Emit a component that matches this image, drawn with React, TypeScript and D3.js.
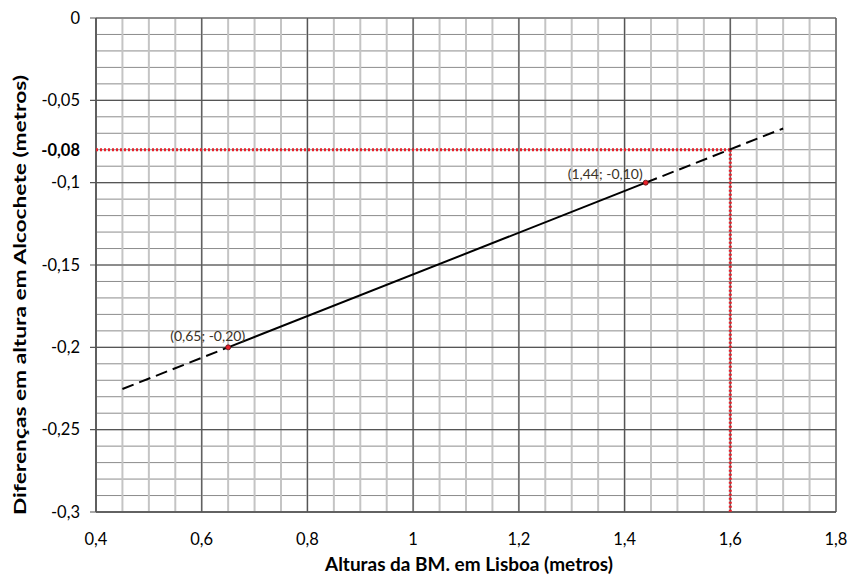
import React, { useEffect, useRef } from 'react';
import * as d3 from 'd3';

// axis ticks
const xTicks = [0.4, 0.6, 0.8, 1, 1.2, 1.4, 1.6, 1.8];
const yTicks = [0, -0.05, -0.1, -0.15, -0.2, -0.25, -0.3];
const yHighlight = -0.08;
const xHighlight = 1.6;

// measured points
const pointX = [0.65, 1.44];
const pointY = [-0.2, -0.1];
const pointLabels = ['(0,65; -0,20)', '(1,44; -0,10)'];

// extent of the fitted (extrapolated) line
const lineStart = 0.45;
const lineEnd = 1.7;

const fmt = (v: number) => String(v).replace('.', ',');

const App = () => {
    const ref = useRef<SVGSVGElement | null>(null);

    useEffect(() => {
        const svg = d3.select(ref.current);
        svg.selectAll('*').remove();

        const width = 850;
        const height = 579;
        const margin = { top: 18, right: 14, bottom: 67, left: 96 };

        const x = d3.scaleLinear().domain([0.4, 1.8]).range([margin.left, width - margin.right]);
        const y = d3.scaleLinear().domain([-0.3, 0]).range([height - margin.bottom, margin.top]);

        const font = 'Lato, "Open Sans", sans-serif';

        // minor grid
        const g = svg.append('g');
        d3.range(-0.3, 0.0001, 0.01).forEach(v => {
            g.append('line')
                .attr('x1', x(0.4)).attr('x2', x(1.8))
                .attr('y1', y(v)).attr('y2', y(v))
                .attr('stroke', '#8c8c8c').attr('stroke-width', 1);
        });
        d3.range(0.4, 1.8001, 0.05).forEach(v => {
            g.append('line')
                .attr('x1', x(v)).attr('x2', x(v))
                .attr('y1', y(0)).attr('y2', y(-0.3))
                .attr('stroke', '#c4c4c4').attr('stroke-width', 2);
        });
        // major grid
        xTicks.forEach(v => {
            g.append('line')
                .attr('x1', x(v)).attr('x2', x(v))
                .attr('y1', y(0)).attr('y2', y(-0.3))
                .attr('stroke', '#555').attr('stroke-width', 1.2);
        });
        yTicks.forEach(v => {
            g.append('line')
                .attr('x1', x(0.4) - 6).attr('x2', x(1.8))
                .attr('y1', y(v)).attr('y2', y(v))
                .attr('stroke', '#555').attr('stroke-width', 1.2);
        });
        // axis lines
        g.append('line')
            .attr('x1', x(0.4)).attr('x2', x(0.4))
            .attr('y1', y(0)).attr('y2', y(-0.3))
            .attr('stroke', '#555').attr('stroke-width', 1.5);
        g.append('line')
            .attr('x1', x(0.4)).attr('x2', x(1.8))
            .attr('y1', y(-0.3)).attr('y2', y(-0.3))
            .attr('stroke', '#555').attr('stroke-width', 1.5);

        // red guide lines
        svg.append('line')
            .attr('x1', x(0.4)).attr('x2', x(xHighlight))
            .attr('y1', y(yHighlight)).attr('y2', y(yHighlight))
            .attr('stroke', '#e8202a').attr('stroke-width', 3)
            .attr('stroke-dasharray', '2,2');
        svg.append('line')
            .attr('x1', x(xHighlight)).attr('x2', x(xHighlight))
            .attr('y1', y(yHighlight)).attr('y2', y(-0.3))
            .attr('stroke', '#e8202a').attr('stroke-width', 3)
            .attr('stroke-dasharray', '2,2');

        // fitted line through the two points
        const slope = (pointY[1] - pointY[0]) / (pointX[1] - pointX[0]);
        const f = (v: number) => pointY[0] + slope * (v - pointX[0]);
        const line = d3.line<number>().x(d => x(d)).y(d => y(f(d)));

        svg.append('path')
            .datum([lineStart, pointX[0]])
            .attr('d', line)
            .attr('fill', 'none').attr('stroke', '#000').attr('stroke-width', 2)
            .attr('stroke-dasharray', '12,6');
        svg.append('path')
            .datum([pointX[1], lineEnd])
            .attr('d', line)
            .attr('fill', 'none').attr('stroke', '#000').attr('stroke-width', 2)
            .attr('stroke-dasharray', '12,6');
        svg.append('path')
            .datum(pointX)
            .attr('d', line)
            .attr('fill', 'none').attr('stroke', '#000').attr('stroke-width', 2);

        // points + labels (labels nudged as in the original)
        const labelDx = [17, -3];
        const labelDy = [-6, -4];
        pointX.forEach((px, i) => {
            svg.append('circle')
                .attr('cx', x(px)).attr('cy', y(pointY[i]))
                .attr('r', 2.5)
                .attr('fill', '#e8202a').attr('stroke', '#5a1010').attr('stroke-width', 0.8);
            svg.append('text')
                .attr('x', x(px) + labelDx[i]).attr('y', y(pointY[i]) + labelDy[i])
                .attr('text-anchor', 'end')
                .attr('font-family', font).attr('font-size', 14)
                .attr('fill', '#3a3226')
                .text(pointLabels[i]);
        });

        // tick labels
        yTicks.forEach(v => {
            svg.append('text')
                .attr('x', x(0.4) - 16).attr('y', y(v)).attr('dy', '0.35em')
                .attr('text-anchor', 'end')
                .attr('font-family', font).attr('font-size', 16.5)
                .text(fmt(v));
        });
        svg.append('text')
            .attr('x', x(0.4) - 16).attr('y', y(yHighlight)).attr('dy', '0.35em')
            .attr('text-anchor', 'end')
            .attr('font-family', font).attr('font-size', 16.5).attr('font-weight', 'bold')
            .text(fmt(yHighlight));
        xTicks.forEach(v => {
            svg.append('text')
                .attr('x', x(v)).attr('y', y(-0.3) + 33)
                .attr('text-anchor', 'middle')
                .attr('font-family', font).attr('font-size', 16.5)
                .text(fmt(v));
        });

        // axis titles
        svg.append('text')
            .attr('x', 469).attr('y', height - 8)
            .attr('text-anchor', 'middle')
            .attr('font-family', font).attr('font-size', 18).attr('font-weight', 'bold')
            .attr('textLength', 288).attr('lengthAdjust', 'spacingAndGlyphs')
            .text('Alturas da BM. em Lisboa (metros)');
        svg.append('text')
            .attr('transform', `translate(26,${295}) rotate(-90)`)
            .attr('text-anchor', 'middle')
            .attr('font-family', font).attr('font-size', 17).attr('font-weight', 'bold')
            .attr('textLength', 440).attr('lengthAdjust', 'spacingAndGlyphs')
            .text('Diferenças em altura em Alcochete (metros)');
    }, []);

    return <svg ref={ref} width={850} height={579} style={{ display: 'block', position: 'absolute', left: 0, top: 0 }} />;
};

export default App;
